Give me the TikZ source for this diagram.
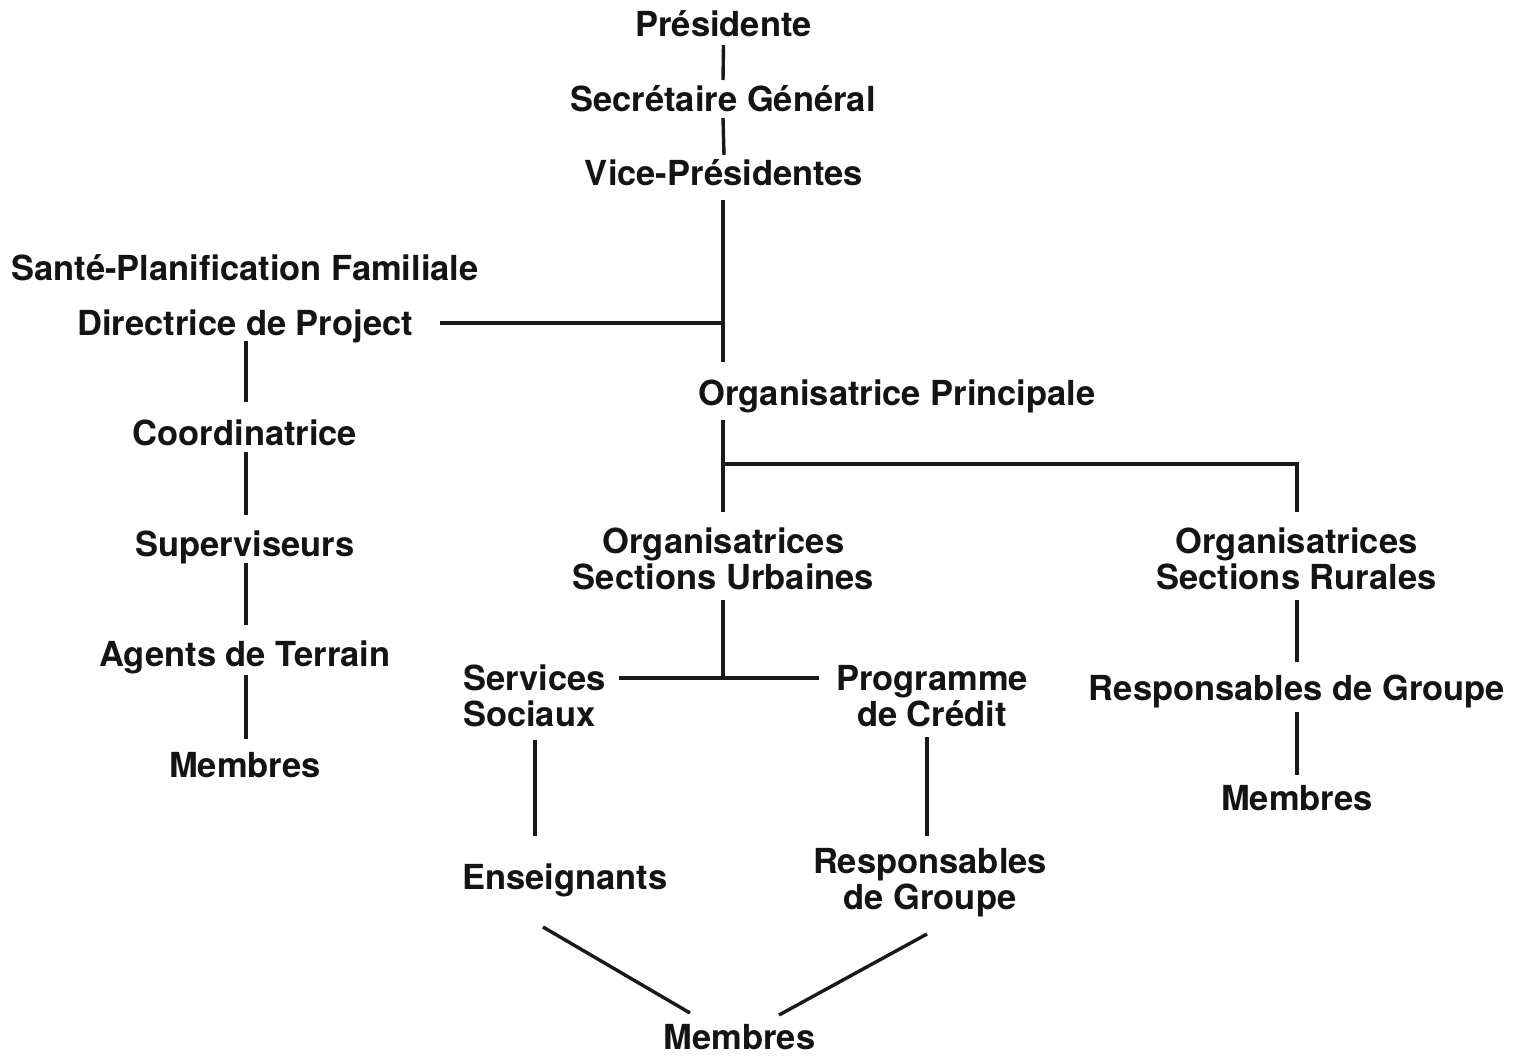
\documentclass[tikz,border=0pt]{standalone}
\usepackage{fontspec}
\setmainfont{TeX Gyre Heros}
\usetikzlibrary{calc}

\tikzset{
  lbl/.style={inner sep=0pt, outer sep=0pt, anchor=base,
    font=\fontsize{34.5}{36}\selectfont\bfseries, text=black!92},
  lbll/.style={lbl, anchor=base west},
  link/.style={line width=3.4pt, draw=black!90},
}
\newcommand{\twoc}[2]{\begin{tabular}[t]{@{}c@{}}#1\\#2\end{tabular}}
\newcommand{\twol}[2]{\begin{tabular}[t]{@{}l@{}}#1\\#2\end{tabular}}

\begin{document}
\begin{tikzpicture}[x=1pt, y=-1pt]
\fill[white] (0,0) rectangle (1523,1057);
\useasboundingbox (0,0) rectangle (1523,1057);

% top chain
\node[lbl] (pres) at (723.5,37) {Présidente};
\node[lbl] (sec)  at (723,111) {Secrétaire Général};
\node[lbl] (vice) at (724,185) {Vice-Présidentes};

% health programme column
\node[lbl] (sante) at (245,280) {Santé-Planification Familiale};
\node[lbl] (dir)   at (245,335) {Directrice de Project};
\node[lbl] (coord) at (245,445) {Coordinatrice};
\node[lbl] (sup)   at (245,556) {Superviseurs};
\node[lbl] (agt)   at (245,666) {Agents de Terrain};
\node[lbl] (memL)  at (245,777) {Membres};

% main organisation
\node[lbl] (orgp) at (897,405) {Organisatrice Principale};
\node[lbl] (urb)  at (723.5,553) {\twoc{Organisatrices}{Sections Urbaines}};
\node[lbl] (rur)  at (1296.5,553) {\twoc{Organisatrices}{Sections Rurales}};

% urban sections
\node[lbll] (serv) at (463,690) {\twol{Services}{Sociaux}};
\node[lbl]  (prog) at (932,690) {\twoc{Programme}{de Crédit}};
\node[lbl]  (ens)  at (565,889) {Enseignants};
\node[lbl]  (resp) at (930,873) {\twoc{Responsables}{de Groupe}};
\node[lbl]  (memB) at (739.5,1049) {Membres};

% rural sections
\node[lbl] (rgrp) at (1297,700) {Responsables de Groupe};
\node[lbl] (memR) at (1297,810) {Membres};

% junctions and free ends
\coordinate (vend) at (723,362);
\coordinate (jdir) at (723,323);
\coordinate (opt)  at (723,420);
\coordinate (jop)  at (723,464);
\coordinate (jurb) at (723,678);

% top chain links
\draw[link] ($(pres.base)+(0,8)$) -- ($(sec.base)+(0,-31)$);
\draw[link] ($(sec.base)+(0,7)$) -- ($(vice.base)+(0,-30)$);
\draw[link] ($(vice.base)+(-1,15)$) -- (vend);
\draw[link] ($(dir.base east)+(27,-12)$) -- (jdir);

% health column links
\draw[link] ($(dir.base)+(1,6)$) -- ($(coord.base)+(1,-43)$);
\draw[link] ($(coord.base)+(1,7)$) -- ($(sup.base)+(1,-41)$);
\draw[link] ($(sup.base)+(1,7)$) -- ($(agt.base)+(1,-41)$);
\draw[link] ($(agt.base)+(1,9)$) -- ($(memL.base)+(1,-38)$);

% organiser branches
\draw[link] (opt) -- ($(urb.base)+(-0.5,-41)$);
\draw[link] (jop) -| ($(rur.base)+(0.5,-41)$);

% urban links
\draw[link] ($(urb.base)+(-0.5,47)$) -- (jurb);
\draw[link] ($(serv.base east)+(13,-12)$) -- ($(prog.base west)+(-17,-12)$);
\draw[link] ($(serv.base west)+(72,50)$) -- ($(ens.base)+(-30,-53)$);
\draw[link] ($(prog.base)+(-5,47)$) -- ($(resp.base)+(-3,-37)$);
\draw[link] ($(ens.base)+(-22,38)$) -- ($(memB.base)+(-49.5,-36)$);
\draw[link] ($(resp.base)+(-3,61)$) -- ($(memB.base)+(39.5,-34)$);

% rural links
\draw[link] ($(rur.base)+(0.5,47)$) -- ($(rgrp.base)+(0,-38)$);
\draw[link] ($(rgrp.base)+(0,12)$) -- ($(memR.base)+(0,-35)$);
\end{tikzpicture}
\end{document}
